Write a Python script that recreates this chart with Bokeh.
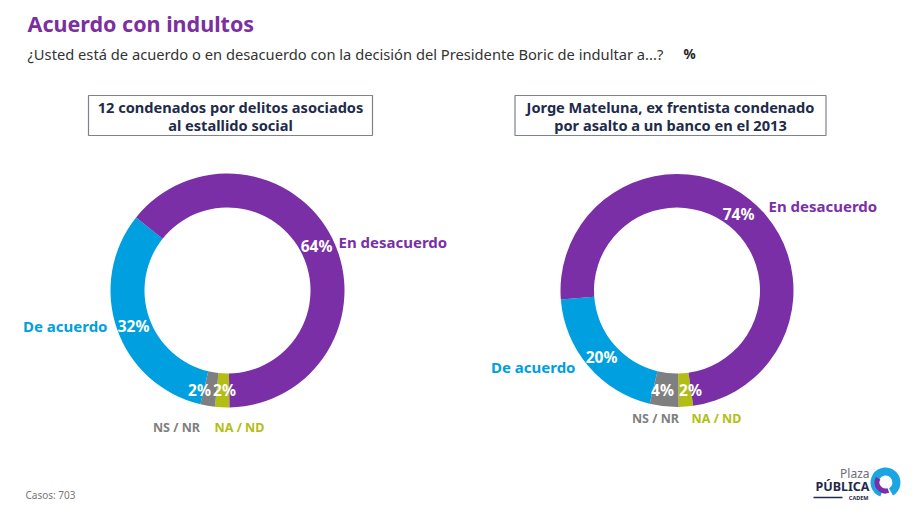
import numpy as np
from bokeh.plotting import figure
from bokeh.models import Range1d, ColumnDataSource
from bokeh.embed import file_html
from bokeh.resources import INLINE
from bokeh.core.properties import value

W, H = 921, 516

# ---------------- data ----------------
categories = ["En desacuerdo", "De acuerdo", "NS / NR", "NA / ND"]
left_values = [64, 32, 2, 2]
right_values = [74, 20, 4, 2]
left_title = ["12 condenados por delitos asociados", "al estallido social"]
right_title = ["Jorge Mateluna, ex frentista condenado", "por asalto a un banco en el 2013"]
colors = ["#7B2FA6", "#009FDF", "#7F7F7F", "#B3BE14"]
title = "Acuerdo con indultos"
subtitle = "¿Usted está de acuerdo o en desacuerdo con la decisión del Presidente Boric de indultar a...?"
casos = "Casos: 703"

FONT = "Noto Sans"
NAVY = "#1E2B4A"


def Y(py):
    return H - py


p = figure(width=W, height=H, output_backend="svg", toolbar_location=None,
           x_range=Range1d(0, W), y_range=Range1d(0, H), min_border=0)
p.axis.visible = False
p.grid.visible = False
p.outline_line_color = None
p.background_fill_color = "white"
p.border_fill_color = "white"


def donut(cx, cy, values, start_deg, r_in, r_out):
    order = [3, 2, 1, 0]  # clockwise from start: NA/ND, NS/NR, De acuerdo, En desacuerdo
    starts, ends, cols = [], [], []
    cum = 0.0
    total = float(sum(values))
    for i in order:
        v = values[i]
        hi = start_deg - cum / total * 360.0
        lo = start_deg - (cum + v) / total * 360.0
        starts.append(np.deg2rad(lo))
        ends.append(np.deg2rad(hi))
        cols.append(colors[i])
        cum += v
    src = ColumnDataSource(dict(x=[cx] * 4, y=[Y(cy)] * 4, s=starts, e=ends, c=cols))
    p.annular_wedge(x="x", y="y", inner_radius=r_in, outer_radius=r_out,
                    start_angle="s", end_angle="e", fill_color="c", line_color=None,
                    direction="anticlock", source=src)


donut(227, 290, left_values, -89, 83, 117)
donut(676.5, 290, right_values, -82, 83, 116.5)


def txt(x, y, s, size, color, bold=True, align="left", font=FONT):
    p.text(x=[x], y=[Y(y)], text=[s], text_font=value(font),
           text_font_size=f"{size}px", text_color=color,
           text_font_style="bold" if bold else "normal",
           text_align=align, text_baseline="middle")


# title and subtitle
txt(27, 23, title, 21.5, "#7B2FA0")
txt(27, 53, subtitle, 14.7, "#333333", bold=False)
txt(683, 53, "%", 13.5, "#1E1E1E")

# boxes
p.rect(x=[230], y=[Y(115)], width=284, height=40, fill_color="white",
       line_color="#7D8290", line_width=1.2)
p.rect(x=[670], y=[Y(115)], width=311, height=40, fill_color="white",
       line_color="#7D8290", line_width=1.2)
txt(230, 106, left_title[0], 14.6, NAVY, align="center")
txt(230, 124, left_title[1], 14.6, NAVY, align="center")
txt(670, 106, right_title[0], 14.6, NAVY, align="center")
txt(670, 124, right_title[1], 14.6, NAVY, align="center")

# percent labels (white, on ring)
def pct(v):
    return f"{v}%"

txt(316, 245, pct(left_values[0]), 15.5, "white", align="center")
txt(133, 325, pct(left_values[1]), 15.5, "white", align="center")
txt(199, 389, pct(left_values[2]), 15.5, "white", align="center")
txt(224, 389, pct(left_values[3]), 15.5, "white", align="center")

txt(738, 213, pct(right_values[0]), 15.5, "white", align="center")
txt(601, 356, pct(right_values[1]), 15.5, "white", align="center")
txt(662, 389, pct(right_values[2]), 15.5, "white", align="center")
txt(690, 389, pct(right_values[3]), 15.5, "white", align="center")

# category labels
txt(338, 241, categories[0], 15, colors[0])
txt(107, 325, categories[1], 15, colors[1], align="right")
txt(176, 427, categories[2], 12.5, colors[2], align="center")
txt(239, 427, categories[3], 12.5, colors[3], align="center")

txt(768, 205, categories[0], 15, colors[0])
txt(575, 366, categories[1], 15, colors[1], align="right")
txt(655, 418, categories[2], 12.5, colors[2], align="center")
txt(716, 418, categories[3], 12.5, colors[3], align="center")

# footer
txt(25, 494, casos, 10, "#777777", bold=False)

# logo
txt(869, 473, "Plaza", 12, "#6B6E7A", bold=False, align="right")
txt(869, 486, "PÚBLICA", 12.5, NAVY, align="right")
txt(868, 497, "CADEM", 5.5, NAVY, align="right")
p.segment(x0=[813], y0=[Y(497)], x1=[842], y1=[Y(497)], line_color=NAVY, line_width=1.5)
p.annular_wedge(x=[885], y=[Y(482)], inner_radius=7, outer_radius=15,
                start_angle=[np.deg2rad(-60)], end_angle=[np.deg2rad(250)],
                fill_color="#1BA6E3", line_color=None)
p.annular_wedge(x=[885], y=[Y(482)], inner_radius=6, outer_radius=11,
                start_angle=[np.deg2rad(150)], end_angle=[np.deg2rad(290)],
                fill_color="#7B2FA6", line_color=None)

open("out.html", "w").write(file_html(p, INLINE))
